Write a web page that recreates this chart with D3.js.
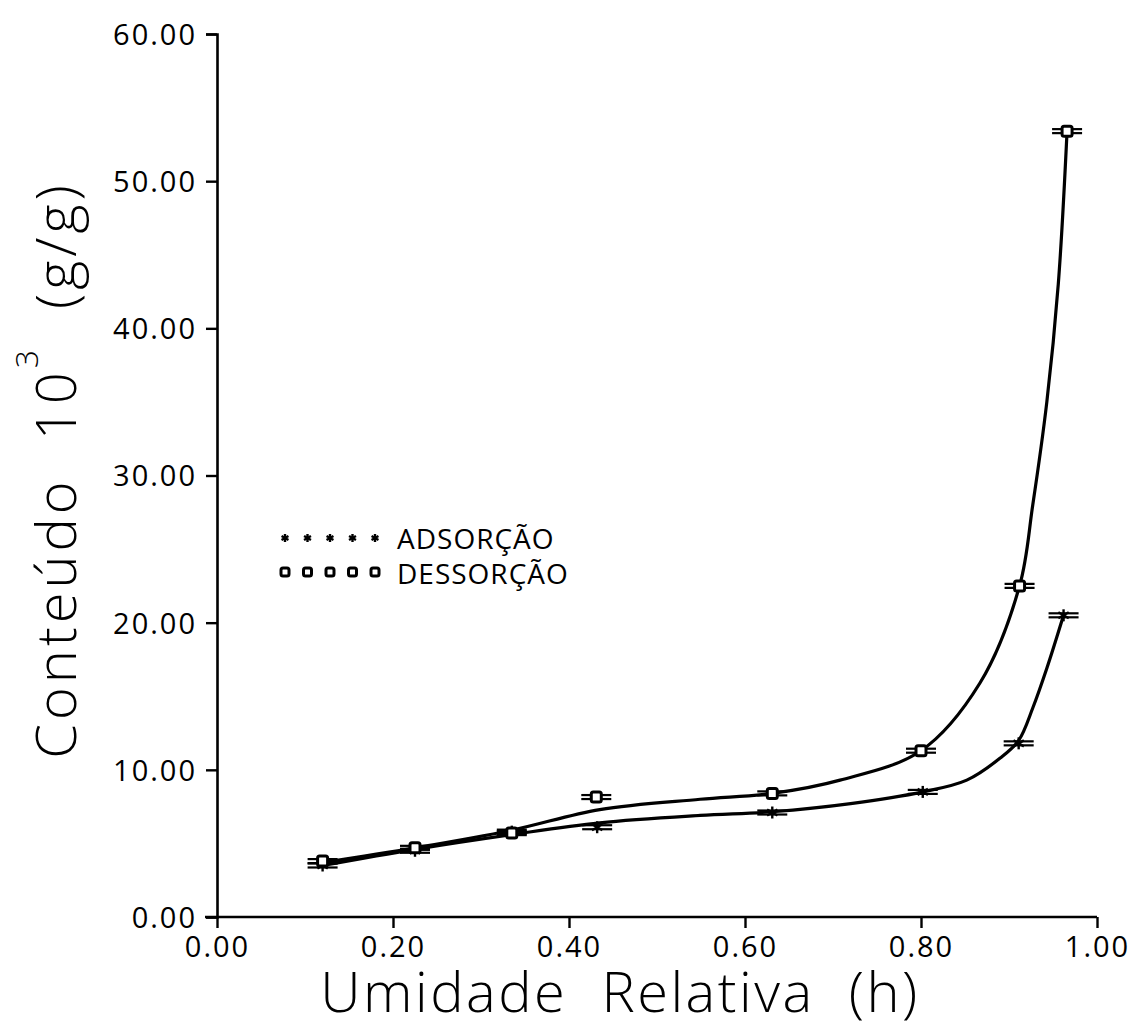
<!DOCTYPE html>
<html>
<head>
<meta charset="utf-8">
<script src="https://cdn.jsdelivr.net/npm/d3@7"></script>
<style>
  html, body { margin: 0; padding: 0; background: #fff; }
  svg text { font-family: "Open Sans", "DejaVu Sans", sans-serif; fill: #000; }
</style>
</head>
<body>
<svg id="chart" width="1130" height="1029"></svg>
<script>
// Measured points: relative humidity (h) and moisture content x 10^3 (g/g)
const adsH   = [0.12, 0.225, 0.335, 0.432, 0.631, 0.802, 0.911, 0.962];
const adsW   = [3.5, 4.5, 5.8, 6.1, 7.1, 8.5, 11.8, 20.5];
const desH   = [0.12, 0.225, 0.335, 0.431, 0.631, 0.800, 0.912, 0.966];
const desW   = [3.8, 4.7, 5.7, 8.15, 8.4, 11.3, 22.5, 53.4];

// Fitted isotherm curves
const adsFitH = [0.12, 0.225, 0.335, 0.435, 0.549, 0.631, 0.72, 0.802, 0.852, 0.89, 0.911, 0.927, 0.943, 0.962];
const adsFitW = [3.5, 4.6, 5.6, 6.4, 6.9, 7.15, 7.7, 8.5, 9.3, 10.8, 12.0, 14.2, 16.9, 20.5];
const desFitH = [0.12, 0.225, 0.335, 0.435, 0.549, 0.631, 0.708, 0.800, 0.867, 0.912, 0.927, 0.943, 0.956, 0.966];
const desFitW = [3.7, 4.7, 5.9, 7.3, 8.0, 8.4, 9.3, 11.3, 15.9, 22.5, 28.0, 35.0, 43.0, 53.4];

const xTicks = [0, 0.2, 0.4, 0.6, 0.8, 1.0];
const yTicks = [0, 10, 20, 30, 40, 50, 60];
const legendLabels = ["ADSORÇÃO", "DESSORÇÃO"];

const svg = d3.select("#chart");
const x = d3.scaleLinear().domain([0, 1]).range([217, 1097]);
const y = d3.scaleLinear().domain([0, 60]).range([917, 34]);

// Axes
const xAxis = d3.axisBottom(x).tickValues(xTicks).tickFormat(d3.format(".2f")).tickSize(11).tickPadding(4);
const yAxis = d3.axisLeft(y).tickValues(yTicks).tickFormat(d3.format(".2f")).tickSize(11).tickPadding(9);

const gx = svg.append("g").attr("transform", `translate(0,${y(0)})`).call(xAxis);
const gy = svg.append("g").attr("transform", `translate(${x(0)},0)`).call(yAxis);
[gx, gy].forEach(g => {
  g.select(".domain").attr("stroke", "#000").attr("stroke-width", 2.6);
  g.selectAll(".tick line").attr("stroke", "#000").attr("stroke-width", 2.4);
  g.selectAll(".tick text")
    .attr("font-size", 29)
    .attr("letter-spacing", 2)
    .attr("font-family", "Open Sans, DejaVu Sans, sans-serif")
    .attr("fill", "#000");
});
gx.select(".domain").attr("d", `M${x(0) - 12},0H${x(1)}`);
gx.selectAll(".tick text").attr("dy", "0.85em");
gy.selectAll(".tick text").attr("dy", "0.36em");

// Axis titles
svg.append("text")
  .attr("x", 620).attr("y", 1012)
  .attr("text-anchor", "middle")
  .attr("font-size", 56)
  .attr("font-weight", 300)
  .attr("letter-spacing", 2.5)
  .style("white-space", "pre")
  .text("Umidade  Relativa  (h)");

const yt = svg.append("text")
  .attr("transform", "translate(76,470) rotate(-90)")
  .attr("text-anchor", "middle")
  .attr("font-size", 56)
  .attr("font-weight", 300)
  .attr("letter-spacing", 4)
  .style("white-space", "pre");
yt.append("tspan").text("Conteúdo  10");
yt.append("tspan").attr("font-size", 32).attr("dy", -38).text("3");
yt.append("tspan").attr("dy", 38).text("  (g/g)");

// Fitted curves
const line = d3.line().x(d => x(d[0])).y(d => y(d[1])).curve(d3.curveCatmullRom.alpha(0.5));
svg.append("path")
  .datum(desFitH.map((h, i) => [h, desFitW[i]]))
  .attr("d", line).attr("fill", "none").attr("stroke", "#000").attr("stroke-width", 3.2);
svg.append("path")
  .datum(adsFitH.map((h, i) => [h, adsFitW[i]]))
  .attr("d", line).attr("fill", "none").attr("stroke", "#000").attr("stroke-width", 3.2);

// Marker symbols
function star(g, cx, cy, r) {
  const s = g.append("g").attr("transform", `translate(${cx},${cy})`)
    .attr("stroke", "#000").attr("stroke-width", 2.4);
  [0, 60, 120].forEach(a => {
    const rad = a * Math.PI / 180;
    s.append("line")
      .attr("x1", -r * Math.sin(rad)).attr("y1", -r * Math.cos(rad))
      .attr("x2", r * Math.sin(rad)).attr("y2", r * Math.cos(rad));
  });
}
function square(g, cx, cy, r) {
  g.append("rect")
    .attr("x", cx - r).attr("y", cy - r).attr("width", 2 * r).attr("height", 2 * r)
    .attr("rx", 2)
    .attr("fill", "#fff").attr("stroke", "#000").attr("stroke-width", 3);
}
function hbar(g, cx, cy, half) {
  [-2, 2].forEach(o => {
    g.append("line")
      .attr("x1", cx - half).attr("x2", cx + half)
      .attr("y1", cy + o).attr("y2", cy + o)
      .attr("stroke", "#000").attr("stroke-width", 2.2);
  });
}

const marks = svg.append("g");
adsH.forEach((h, i) => {
  hbar(marks, x(h), y(adsW[i]), 15);
  star(marks, x(h), y(adsW[i]), 6);
});
desH.forEach((h, i) => {
  hbar(marks, x(h), y(desW[i]), 15);
  square(marks, x(h), y(desW[i]), 5);
});

// Legend
const legend = svg.append("g");
const legX0 = 285, legDx = 22.5;
d3.range(5).forEach(k => star(legend, legX0 + k * legDx, 538, 4));
d3.range(5).forEach(k => square(legend, legX0 + k * legDx, 572, 4));
legend.append("text").attr("x", 397).attr("y", 549).attr("font-size", 28).attr("letter-spacing", 1).text(legendLabels[0]);
legend.append("text").attr("x", 397).attr("y", 584).attr("font-size", 28).attr("letter-spacing", 1).text(legendLabels[1]);
</script>
</body>
</html>
